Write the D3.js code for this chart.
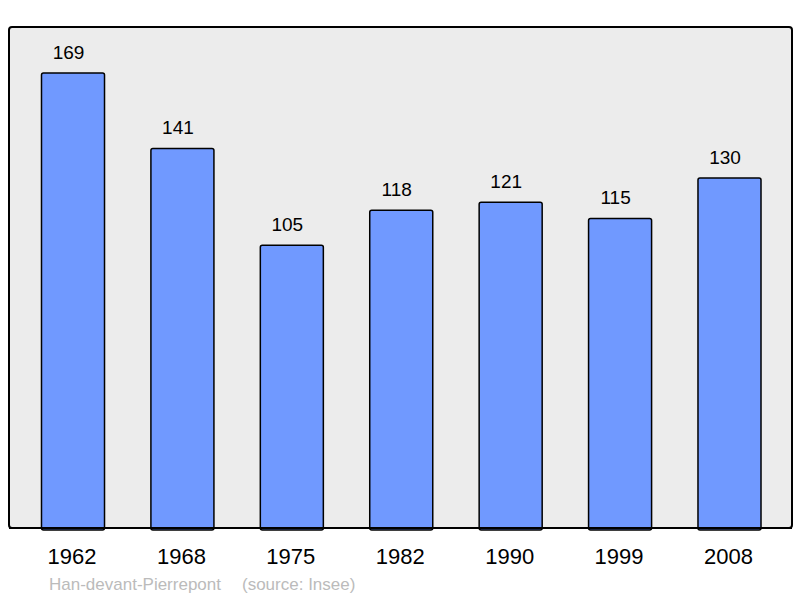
<!DOCTYPE html>
<html>
<head>
<meta charset="utf-8">
<script src="https://cdn.jsdelivr.net/npm/d3@7.9.0/dist/d3.min.js"></script>
<style>
  body { margin: 0; background: #fff; }
  svg { display: block; font-family: "Liberation Sans", Arial, sans-serif; }
</style>
</head>
<body>
<svg id="chart" width="800" height="598"></svg>
<script>
// ---------- Data ----------
const years = ["1962", "1968", "1975", "1982", "1990", "1999", "2008"];
const population = [169, 141, 105, 118, 121, 115, 130];
const commune = "Han-devant-Pierrepont";
const source = "(source: Insee)";

const svg = d3.select("#chart");

// ---------- Panel ----------
svg.append("rect")
  .attr("x", 9).attr("y", 27)
  .attr("width", 783).attr("height", 501)
  .attr("rx", 3)
  .attr("fill", "#ececec")
  .attr("stroke", "#000")
  .attr("stroke-width", 2);

// ---------- Scales ----------
const x = d3.scaleBand()
  .domain(years)
  .range([18.3, 784.2])
  .paddingInner(0.424)
  .paddingOuter(0.212);

const y = d3.scaleLinear()
  .domain([0, 169])
  .range([528, 73]);

// ---------- Bars ----------
const data = years.map((yr, i) => ({ year: yr, value: population[i] }));

svg.selectAll("rect.bar")
  .data(data)
  .join("rect")
  .attr("class", "bar")
  .attr("x", d => x(d.year))
  .attr("y", d => y(d.value))
  .attr("width", x.bandwidth())
  .attr("height", d => 528 - y(d.value) + 2)
  .attr("rx", 2)
  .attr("fill", "#7099ff")
  .attr("stroke", "#000")
  .attr("stroke-width", 1.5);

// redraw panel bottom line over bars
svg.append("line")
  .attr("x1", 9).attr("x2", 792)
  .attr("y1", 528).attr("y2", 528)
  .attr("stroke", "#000")
  .attr("stroke-width", 2);

// value labels (sit a little left of the bar centre, as in the original)
svg.selectAll("text.val")
  .data(data)
  .join("text")
  .attr("class", "val")
  .attr("x", d => x(d.year) + x.bandwidth() / 2 - 4.5)
  .attr("y", d => y(d.value) - 14)
  .attr("text-anchor", "middle")
  .attr("font-size", 19)
  .attr("fill", "#000")
  .text(d => d.value);

// ---------- X axis labels ----------
svg.selectAll("text.year")
  .data(years)
  .join("text")
  .attr("class", "year")
  .attr("x", d => x(d) + x.bandwidth() / 2 - 1)
  .attr("y", 564)
  .attr("text-anchor", "middle")
  .attr("font-size", 22)
  .attr("fill", "#000")
  .text(d => d);

// ---------- Footer ----------
svg.append("text")
  .attr("x", 49).attr("y", 590)
  .attr("font-size", 17)
  .attr("fill", "#bbbbbb")
  .text(commune);

svg.append("text")
  .attr("x", 242).attr("y", 590)
  .attr("font-size", 17)
  .attr("fill", "#bbbbbb")
  .text(source);
</script>
</body>
</html>
